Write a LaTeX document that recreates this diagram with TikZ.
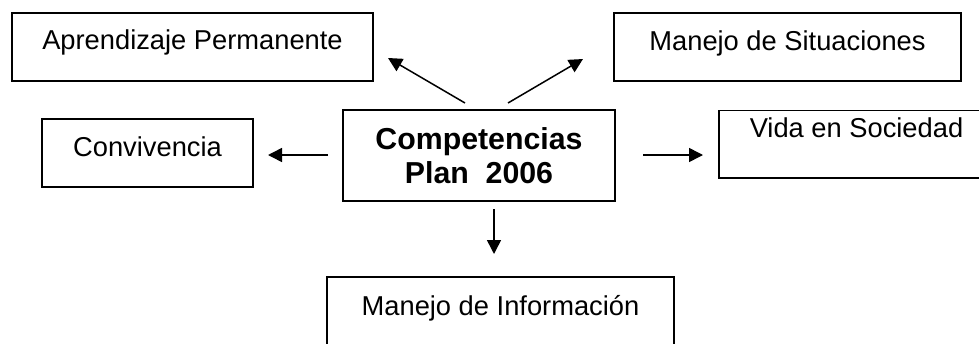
\documentclass[tikz,border=0pt]{standalone}
\usepackage{fontspec}
\setmainfont{Liberation Sans}
\usetikzlibrary{arrows.meta}
\begin{document}
\begin{tikzpicture}[x=1pt,y=-1pt,
  box/.style={draw=black, line width=1.8pt, fill=white, inner sep=0pt, anchor=base,
    font=\fontsize{27.3}{32}\selectfont},
  cbox/.style={draw=black, line width=1.8pt, inner sep=0pt, align=center,
    font=\fontsize{30.3}{34}\selectfont\bfseries},
  arr/.style={line width=1.5pt, -{Triangle[length=14pt,width=14pt]}}]
\clip (0,0) rectangle (979,343);
\fill[white] (0,0) rectangle (979,343);
% boxes
\node[box, minimum width=361pt, text height=36pt, text depth=32pt] (ap) at (192.5,49) {Aprendizaje Permanente};
\node[box, minimum width=347pt, text height=37pt, text depth=31pt] (ms) at (787.5,50) {Manejo de Situaciones};
\node[box, minimum width=211pt, text height=37pt, text depth=31pt] (cv) at (147.5,156) {Convivencia};
\node[box, minimum width=275pt, text height=27pt, text depth=40.5pt] (vs) at (856.5,137.5) {Vida en Sociedad};
\node[box, minimum width=347pt, text height=38pt, text depth=31pt] (mi) at (500.5,315) {Manejo de Información};
\node[cbox, minimum width=272pt, minimum height=91pt] (c) at (479,155.5) {Competencias\\Plan~~2006};
% arrow end points
\coordinate (nws) at (465,103);
\coordinate (nwe) at (388,58);
\coordinate (nes) at (508,103);
\coordinate (nee) at (583,59);
\coordinate (ls) at (328,155);
\coordinate (le) at (268,155);
\coordinate (rs) at (643,155);
\coordinate (re) at (703,155);
\coordinate (ds) at (494,209);
\coordinate (de) at (494,254);
\draw[arr] (nws) -- (nwe);
\draw[arr] (nes) -- (nee);
\draw[arr] (ls) -- (le);
\draw[arr] (rs) -- (re);
\draw[arr] (ds) -- (de);
\end{tikzpicture}
\end{document}
